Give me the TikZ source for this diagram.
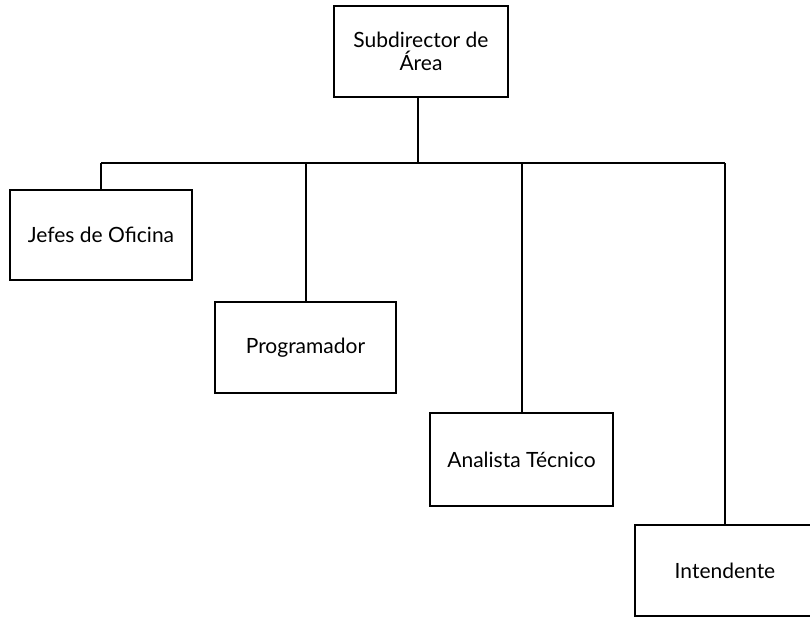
\documentclass[tikz,border=0pt]{standalone}
\usepackage{fontspec}
\setmainfont{Lato}
\begin{document}
\begin{tikzpicture}[x=1pt,y=-1pt,
  box/.style={draw=black, line width=1.4pt, minimum width=#1, inner sep=2pt, align=center, font=\fontsize{21}{23}\selectfont},
  conn/.style={draw=black, line width=2pt}]
\useasboundingbox (0,0) rectangle (810,617);
\clip (0,0) rectangle (810,617);
\fill[white] (0,0) rectangle (810,617);
\node[box=174pt, minimum height=91pt] (top) at (421,51.5) {Subdirector de\\Área};
\node[box=182pt, minimum height=90pt] (jefes) at (101,235) {Jefes de Oficina};
\node[box=181pt, minimum height=91pt] (prog) at (305.5,347.5) {Programador};
\node[box=183pt, minimum height=93pt] (anal) at (521.5,459.5) {Analista Técnico};
\node[box=200pt, minimum height=91pt] (inte) at (735,570.5) {Intendente\hspace{20pt}};
\coordinate (bt) at (418,163);
\coordinate (busL) at (101,163);
\coordinate (busR) at (725,163);
\draw[conn] (busL) -- (busR);
\draw[conn] (top.south -| bt) -- (bt);
\draw[conn] (jefes.north) -- (jefes.north |- busL);
\draw[conn] (prog.north) -- (prog.north |- busL);
\draw[conn] (anal.north) -- (anal.north |- busL);
\draw[conn] (busR) -- (busR |- inte.north);
\end{tikzpicture}
\end{document}
